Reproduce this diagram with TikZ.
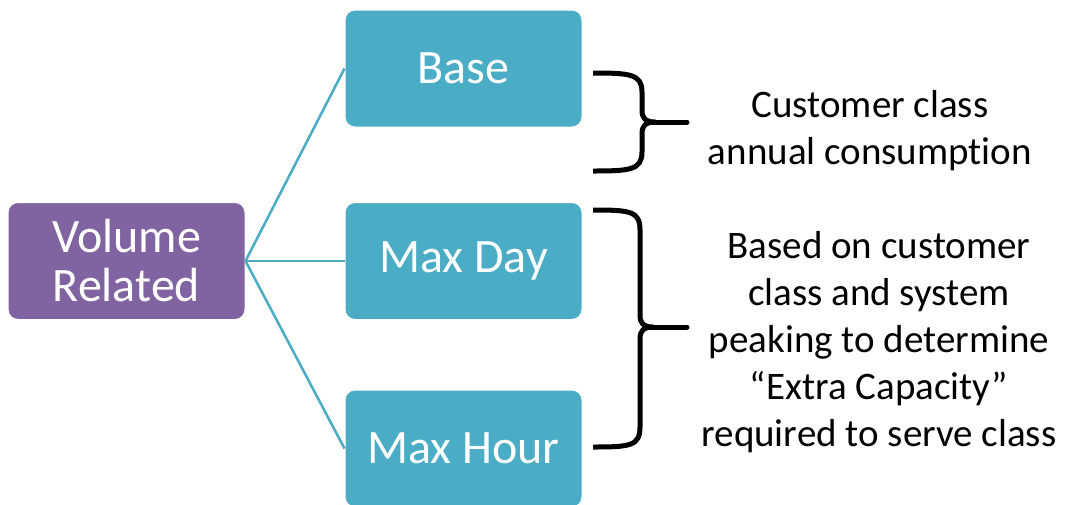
\documentclass[tikz,border=0pt]{standalone}
\usepackage{fontspec}
\setmainfont{Carlito}[RawFeature={-liga;-calt;-clig}]
\definecolor{vpurple}{HTML}{8064A2}
\definecolor{vteal}{HTML}{4BACC6}
\begin{document}
\begin{tikzpicture}[x=1pt,y=-1pt,
  box/.style={rounded corners=10pt, draw=white, line width=1pt, minimum width=237pt, minimum height=117pt, inner sep=0pt, text=white, align=center, font=\fontsize{48}{49}\selectfont},
  conn/.style={draw=vteal, line width=2.5pt},
  brace/.style={draw=black, line width=5pt, line join=round},
  note/.style={align=center, font=\fontsize{39}{47}\selectfont, inner sep=0pt}]
\useasboundingbox (0,0) rectangle (1068,504);
\clip (0,0) rectangle (1068,504);
\fill[white] (0,0) rectangle (1068,504);
\node[box, fill=vpurple] (vol) at (126.5,261) {Volume\\Related};
\node[box, fill=vteal] (base) at (463.5,68.5) {Base};
\node[box, fill=vteal] (day) at (463.5,261) {Max Day};
\node[box, fill=vteal] (hour) at (463.5,448.5) {Max Hour};
\draw[conn] (vol.east) -- (base.west);
\draw[conn] (vol.east) -- (day.west);
\draw[conn] (vol.east) -- (hour.west);
% top brace
\draw[brace] (593,73) .. controls (630,73) and (642,74) .. (642,92) -- (642,110) .. controls (642,119) and (646,122) .. (655,122) .. controls (646,122) and (642,125) .. (642,134) -- (642,152) .. controls (642,170) and (630,171) .. (593,171);
\coordinate (t1) at (687,122);
\draw[brace, line cap=round] (652,122) -- (t1);
% bottom brace
\draw[brace] (593,210) .. controls (630,210) and (640,211) .. (640,230) -- (640,315) .. controls (640,324) and (644,327) .. (653,327) .. controls (644,327) and (640,330) .. (640,339) -- (640,427) .. controls (640,446) and (630,447) .. (593,447);
\coordinate (t2) at (687,327);
\draw[brace, line cap=round] (650,327) -- (t2);
\node[note] (n1) at (870,131) {Customer class\\annual consumption};
\node[note] (n2) at (879,342) {Based on customer\\class and system\\peaking to determine\\“Extra Capacity”\\required to serve class};
\end{tikzpicture}
\end{document}
